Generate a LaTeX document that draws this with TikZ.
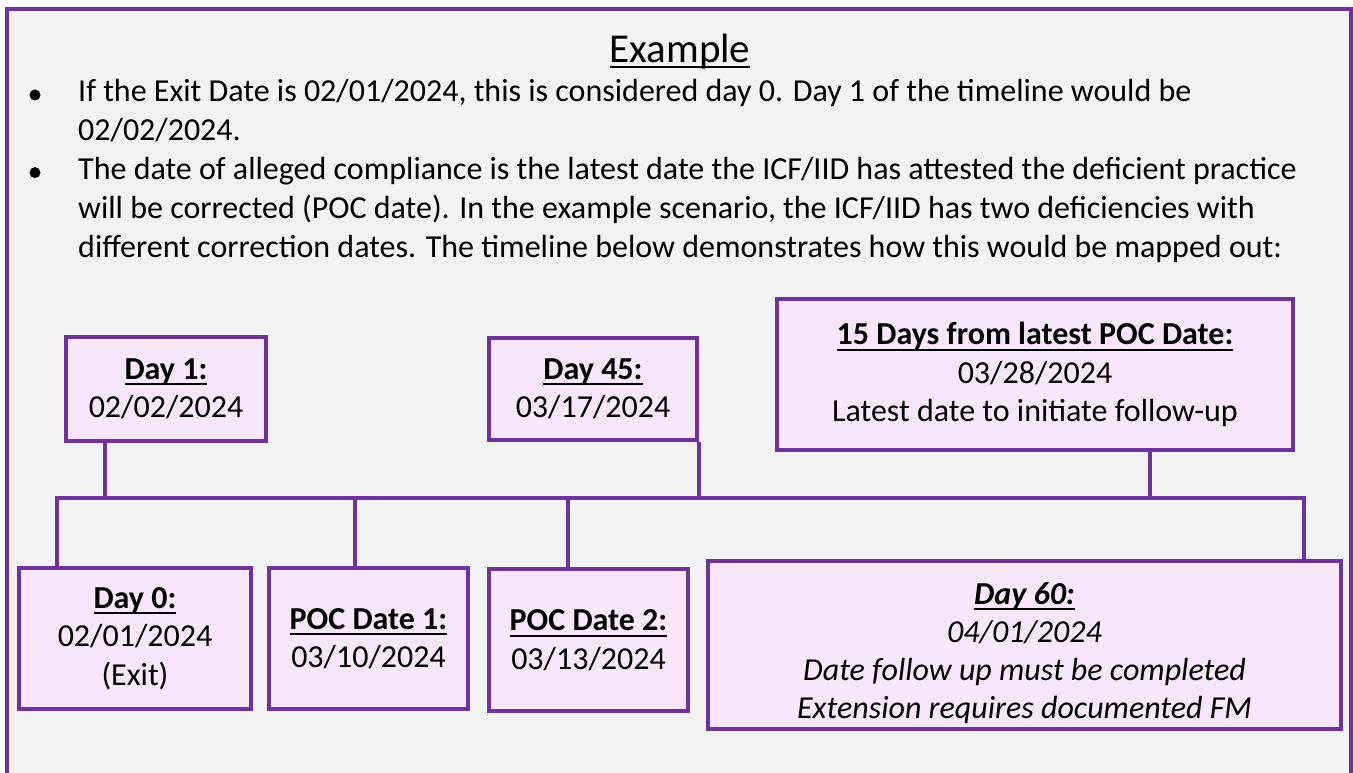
\documentclass[tikz,border=0pt]{standalone}
\usepackage{fontspec}
\setmainfont{Carlito}
\definecolor{frame}{RGB}{112,48,160}
\definecolor{boxfill}{RGB}{248,230,253}
\definecolor{pagebg}{RGB}{242,242,242}
% underline drawn as a rule a fixed distance below the baseline
\newcommand\uln[2][6pt]{\setbox0\hbox{#2}\rlap{\rule[-#1]{\wd0}{2pt}}\box0}
\begin{document}
\begin{tikzpicture}[x=1pt,y=-1pt,
  tbox/.style={draw=frame, line width=4pt, fill=boxfill, inner sep=0pt,
    align=center, font=\fontsize{32}{38.5}\selectfont},
  conn/.style={draw=frame, line width=4pt},
  txt/.style={inner sep=0pt, font=\fontsize{32}{39}\selectfont, anchor=base west}]
\useasboundingbox (0,0) rectangle (1353,773);
% page and outer frame
\fill[white] (0,0) rectangle (1353,773);
\fill[pagebg] (7,9) rectangle (1351,780);
\draw[frame, line width=4pt] (7,790) -- (7,9) -- (1351,9) -- (1351,790);

% heading
\node[inner sep=0pt, anchor=base, font=\fontsize{41}{48}\selectfont] (title) at (680,63) {\uln[5pt]{Example}};

% bullet list
\fill (35,95) circle (5.5pt);
\fill (35,172.6) circle (5.5pt);
\node[txt] (l1) at (78,102) {If the Exit Date is 02/01/2024, this is considered day 0. Day 1 of the timeline would be};
\node[txt] (l2) at (78,140.8) {02/02/2024.};
\node[txt] (l3) at (78,179.6) {The date of alleged compliance is the latest date the ICF/IID has attested the deficient practice};
\node[txt] (l4) at (78,218.4) {will be corrected (POC date). In the example scenario, the ICF/IID has two deficiencies with};
\node[txt] (l5) at (78,257.2) {different correction dates. The timeline below demonstrates how this would be mapped out:};

% timeline joints
\coordinate (tl0) at (57,498);
\coordinate (tl60) at (1304,498);
\coordinate (j1) at (105,498);
\coordinate (j15) at (1150,498);
\coordinate (jp1) at (355,498);
\coordinate (jp2) at (568,498);

% boxes above the timeline
\node[tbox, minimum width=200pt, minimum height=104pt] (d1) at (166,389) {};
\node[tbox, minimum width=208pt, minimum height=102pt] (d45) at (593,389) {};
\node[tbox, minimum width=516pt, minimum height=151pt] (d15) at (1035,374.5) {};
% boxes below the timeline
\node[tbox, minimum width=232pt, minimum height=141pt] (d0) at (135,638.5) {};
\node[tbox, minimum width=199pt, minimum height=141pt] (p1) at (368.5,638.5) {};
\node[tbox, minimum width=199pt, minimum height=142pt] (p2) at (588.5,640) {};
\node[tbox, minimum width=633pt, minimum height=168pt] (d60) at (1024.5,645) {};

% connectors
\draw[conn] (d0.north -| tl0) -- (tl0) -- (tl60) -- (d60.north -| tl60);
\draw[conn] (d1.south -| j1) -- (j1);
\draw[conn] (d45.south east) -- (d45.south east |- tl0);
\draw[conn] (d15.south -| j15) -- (j15);
\draw[conn] (p1.north -| jp1) -- (jp1);
\draw[conn] (p2.north -| jp2) -- (jp2);

% box texts
\node[tbox, draw=none, fill=none] (d1t) at (d1) {\uln{\textbf{Day 1:}}\\02/02/2024};
\node[tbox, draw=none, fill=none] (d45t) at (d45) {\uln{\textbf{Day 45:}}\\03/17/2024};
\node[tbox, draw=none, fill=none] (d15t) at (d15) {\uln{\textbf{15 Days from latest POC Date:}}\\03/28/2024\\Latest date to initiate follow-up};
\node[tbox, draw=none, fill=none] (d0t) at (d0) {\uln{\textbf{Day 0:}}\\02/01/2024\\(Exit)};
\node[tbox, draw=none, fill=none] (p1t) at (p1) {\uln{\textbf{POC Date 1:}}\\03/10/2024};
\node[tbox, draw=none, fill=none] (p2t) at (p2) {\uln{\textbf{POC Date 2:}}\\03/13/2024};
\node[tbox, draw=none, fill=none, font=\fontsize{32}{38}\selectfont\itshape] (d60t) at (1024.5,653) {\uln{\textbf{Day 60:}}\\04/01/2024\\Date follow up must be completed\\Extension requires documented FM};
\end{tikzpicture}
\end{document}
